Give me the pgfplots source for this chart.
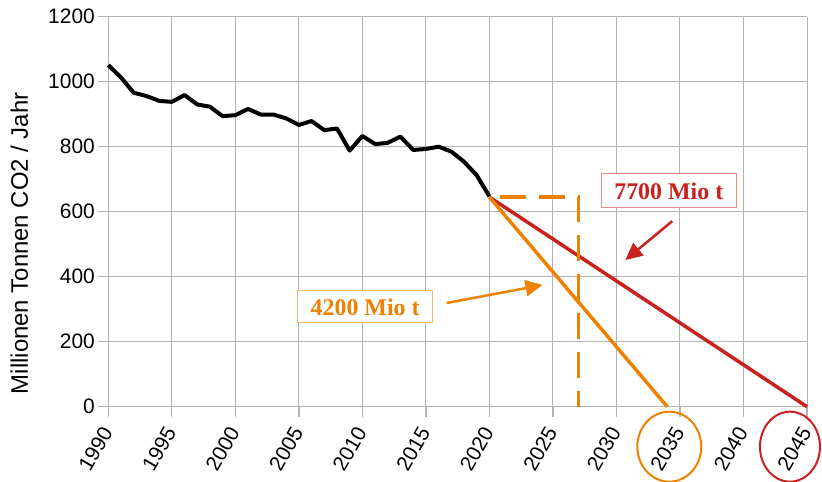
\documentclass[border=0pt]{standalone}
\usepackage{pgfplots}
\pgfplotsset{compat=1.18}
\usepackage{pgfplotstable}
\usepackage{fontspec}
\setmainfont{Liberation Sans}
\newfontfamily\annfont{Liberation Serif}
\usetikzlibrary{arrows.meta}

\definecolor{cred}{HTML}{C9211E}
\definecolor{credlight}{HTML}{E58A88}
\definecolor{corange}{HTML}{EE8100}
\definecolor{corangelight}{HTML}{F6B870}
\definecolor{cgrid}{HTML}{B3B3B3}

\pgfplotstableread{
year co2
1990 1051
1991 1013
1992 966
1993 956
1994 941
1995 938
1996 959
1997 930
1998 923
1999 894
2000 897
2001 916
2002 899
2003 899
2004 887
2005 867
2006 879
2007 851
2008 856
2009 788
2010 833
2011 808
2012 812
2013 831
2014 790
2015 793
2016 800
2017 785
2018 754
2019 712
2020 647
}\emissions

\begin{document}
\begin{tikzpicture}
\begin{axis}[
  name=ax,
  width=698.7bp, height=390bp, scale only axis,
  xmin=1990, xmax=2045, ymin=0, ymax=1200,
  xtick={1990,1995,...,2045}, ytick={0,200,...,1200},
  axis lines=left, axis line style={-, cgrid, line width=1.3bp},
  grid=major, grid style={cgrid, line width=1bp},
  tick align=outside, major tick length=10bp,
  tick style={cgrid, line width=1.3bp},
  /pgf/number format/1000 sep={},
  /pgf/number format/assume math mode=true,
  ticklabel style={font=\fontsize{21}{25}\selectfont},
  x tick label style={yshift=-12bp, xshift=-1bp, rotate=60, anchor=east, inner sep=0pt},
  ylabel={Millionen Tonnen CO2 / Jahr},
  ylabel style={font=\fontsize{24}{28}\selectfont,
    at={(axis description cs:-0.1274,0.419)}, anchor=center},
  clip=false,
]
\addplot[black, line width=4bp, line join=round] table[x=year, y=co2] {\emissions};
\addplot[cred, line width=3.5bp] coordinates {(2020,645) (2045,0)};
\addplot[corange, line width=3.5bp] coordinates {(2020,645) (2034,0)};
\addplot[corange, line width=3.5bp, dash pattern=on 26bp off 13bp]
  coordinates {(2020.8,645) (2027,645) (2027,0)};

\node[draw=credlight, fill=white, line width=1bp, text=cred,
  font=\annfont\bfseries\fontsize{24}{28}\selectfont,
  minimum width=135bp, minimum height=34bp, inner sep=0pt]
  at (axis cs:2034.12,663.7) {7700 Mio t};
\draw[cred, line width=2.5bp, -{Triangle[length=17bp,width=16bp]}]
  (axis cs:2034.39,570.8) -- (axis cs:2030.70,451.4);

\node[draw=corangelight, fill=white, line width=1bp, text=corange,
  font=\annfont\bfseries\fontsize{24}{28}\selectfont,
  minimum width=135bp, minimum height=32bp, inner sep=0pt]
  at (axis cs:2010.22,306.8) {4200 Mio t};
\draw[corange, line width=2.5bp, -{Triangle[length=17bp,width=16bp]}]
  (axis cs:2016.63,319) -- (axis cs:2024.18,374.5);

\draw[corange, line width=2bp] (axis cs:2034.16,-123) ellipse [x radius=32bp, y radius=35bp];
\draw[cred, line width=2bp] (axis cs:2043.66,-123) ellipse [x radius=30bp, y radius=35bp];
\end{axis}
\pgfresetboundingbox
\path ([xshift=-108.3bp, yshift=-75.3bp]ax.south west) rectangle ([xshift=15bp, yshift=16.7bp]ax.north east);
\end{tikzpicture}
\end{document}
